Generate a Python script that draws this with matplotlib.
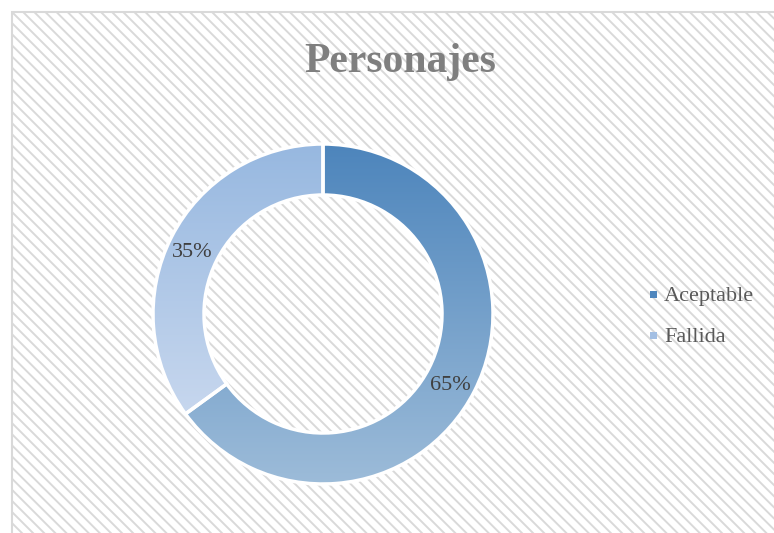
import numpy as np
import matplotlib
matplotlib.use("Agg")
import matplotlib.pyplot as plt
from matplotlib.patches import Rectangle
from matplotlib.colors import LinearSegmentedColormap

labels = ["Aceptable", "Fallida"]
values = [65, 35]
pct_labels = ["65%", "35%"]
grad_top = ["#4d85bc", "#97b8e0"]
grad_bottom = ["#9dbcd9", "#c7d7ee"]
legend_colors = ["#4f86bd", "#a3bfe3"]

plt.rcParams["font.family"] = ["Liberation Serif", "DejaVu Serif"]
plt.rcParams["hatch.linewidth"] = 1.4
plt.rcParams["hatch.color"] = "#e6e6e6"

W, H = 774, 533
fig = plt.figure(figsize=(W / 100, H / 100), dpi=100)
fig.patch.set_facecolor("white")

# hatched chart area background
bg = Rectangle((12 / W, -0.1), 1, 1.1 - 12 / H, transform=fig.transFigure,
               facecolor="white", edgecolor="#d9d9d9", hatch="\\\\\\",
               linewidth=1.5, zorder=-1)
fig.patches.append(bg)

# donut axes: centre (323, 314) px, outer radius 170 px
cx, cy, r = 323, 314, 170
lim = 1.03
half = r * lim
ax = fig.add_axes([(cx - half) / W, (H - cy - half) / H, 2 * half / W, 2 * half / H])
ax.set_zorder(1)
ax.patch.set_visible(False)
ax.set_aspect("equal")
ax.axis("off")

wedges, _ = ax.pie(values, startangle=90, counterclock=False, radius=1.0,
                   wedgeprops=dict(width=0.3, edgecolor="white", linewidth=2.5))

for w, top, bot in zip(wedges, grad_top, grad_bottom):
    w.set_facecolor("none")
    cmap = LinearSegmentedColormap.from_list("g", [bot, top])
    # gradient over the wedge's bounding box
    verts = w.get_path().vertices
    y0, y1 = verts[:, 1].min(), verts[:, 1].max()
    im = ax.imshow(np.linspace(1, 0, 256).reshape(-1, 1), cmap=cmap, aspect="auto",
                   extent=(-1, 1, y0, y1), vmin=0, vmax=1, zorder=1)
    im.set_clip_path(w)
    w.set_zorder(2)
ax.set_xlim(-lim, lim)
ax.set_ylim(-lim, lim)

# percentage labels
ax.text(0.75, -0.42, pct_labels[0], fontsize=16, color="#404040",
        ha="center", va="center", zorder=3)
ax.text(-0.77, 0.36, pct_labels[1], fontsize=16, color="#404040",
        ha="center", va="center", zorder=3)

fig.text(400 / W, 1 - 62 / H, "Personajes", fontsize=30, fontweight="bold",
         color="#7f7f7f", ha="center", va="center")

# legend
for lab, col, y in zip(labels, legend_colors, [294, 335]):
    fig.patches.append(Rectangle(((653 - 3.5) / W, 1 - (y + 3.5) / H), 7 / W, 7 / H,
                                 transform=fig.transFigure, facecolor=col,
                                 edgecolor="none", zorder=3))
    fig.text(664 / W, 1 - (y + 2) / H, lab, fontsize=16, color="#595959",
             ha="left", va="center")

fig.savefig("out.png", dpi=100)
